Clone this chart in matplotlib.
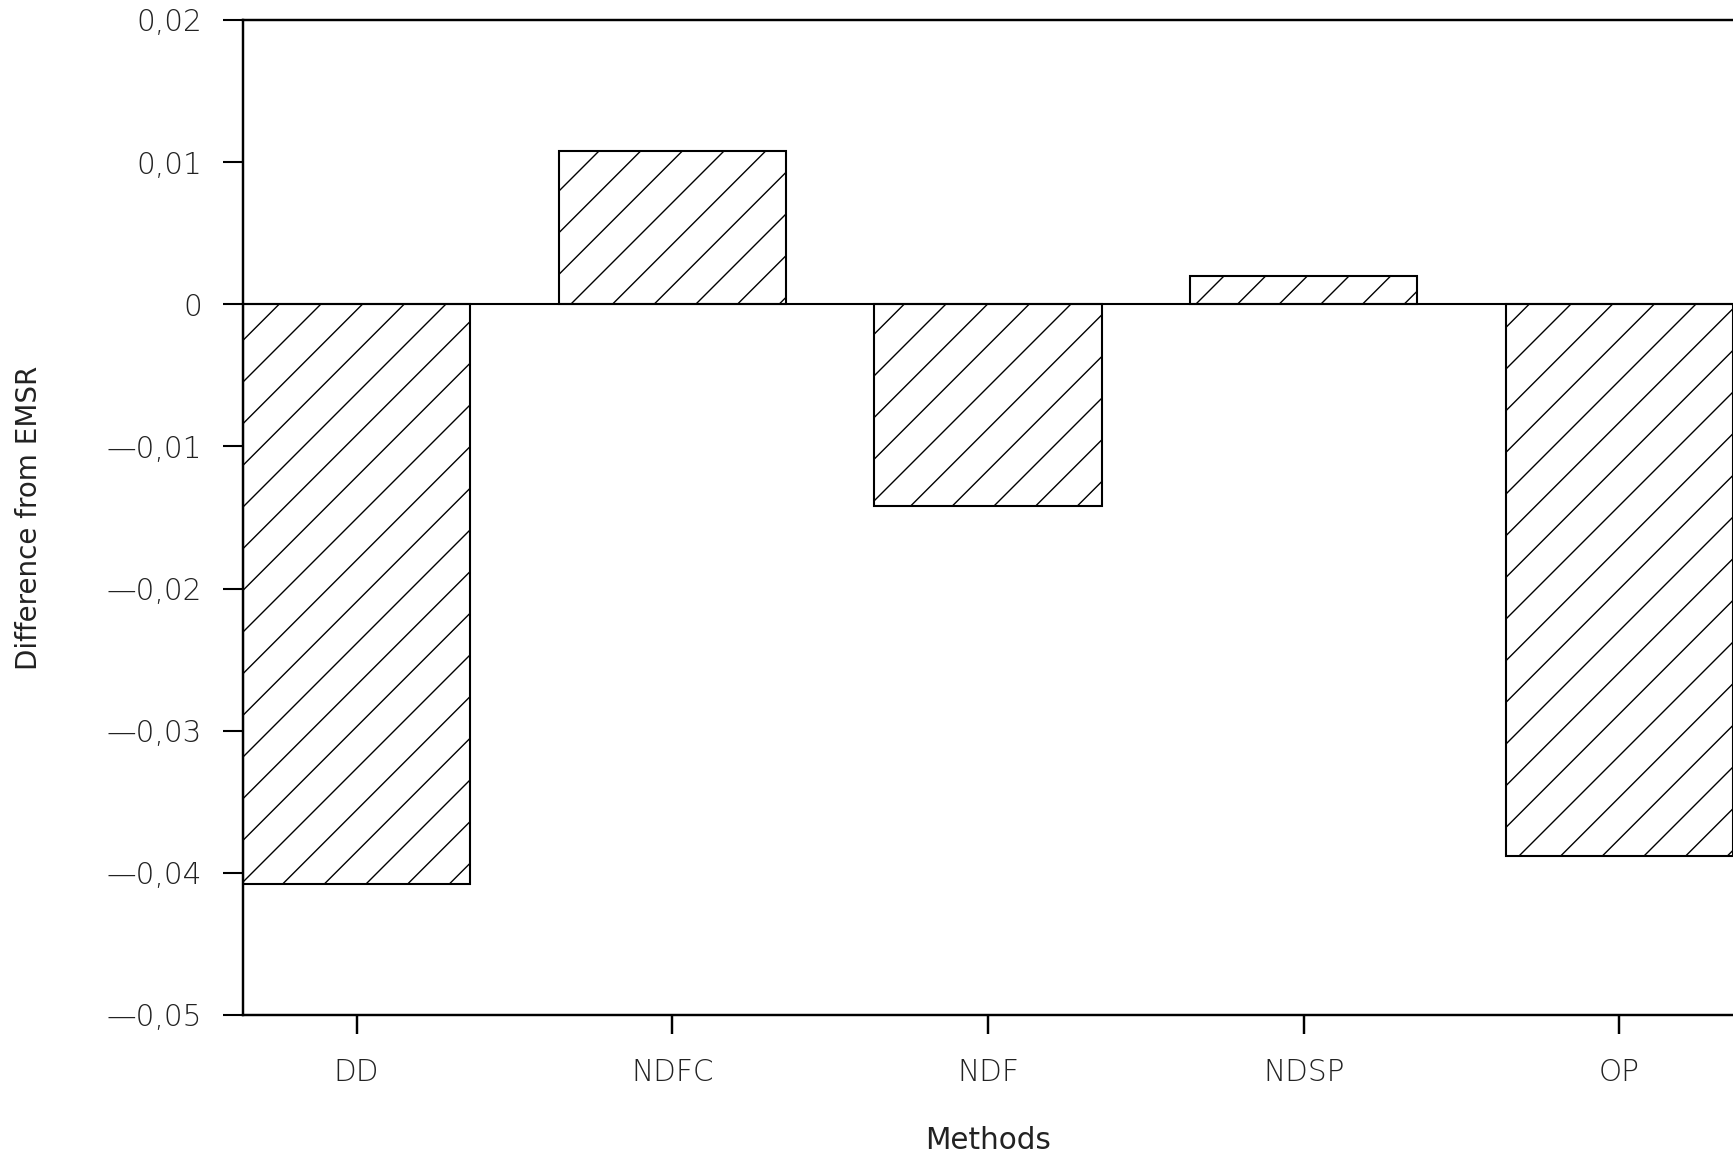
import matplotlib
matplotlib.use("Agg")
import matplotlib.pyplot as plt
from matplotlib.ticker import FuncFormatter

methods = ["DD", "NDFC", "NDF", "NDSP", "OP"]
diffs = [-0.0408, 0.0108, -0.0142, 0.0020, -0.0388]
yticks = [-0.05, -0.04, -0.03, -0.02, -0.01, 0.0, 0.01, 0.02]

DPI = 250
plt.rcParams["hatch.linewidth"] = 0.4
plt.rcParams["font.family"] = ["DejaVu Sans"]

fig = plt.figure(figsize=(1733 / DPI, 1160 / DPI), dpi=DPI)
ax = fig.add_axes([0.1402, 0.125, 0.8598, 0.8578])

x = list(range(len(methods)))
ax.bar(x, diffs, width=0.72, color="white", edgecolor="black",
       linewidth=0.6, hatch="//", zorder=2)
ax.axhline(0, color="black", linewidth=0.6, zorder=3)

ax.set_xlim(-0.36, 4.36)
ax.set_ylim(-0.05, 0.02)
ax.set_yticks(yticks)
ax.set_xticks(x)
ax.set_xticklabels(methods)


def fmt(v, pos):
    if abs(v) < 1e-12:
        return "0"
    s = f"{abs(v):.2f}".replace(".", ",")
    return ("\u2014" if v < 0 else "") + s


ax.yaxis.set_major_formatter(FuncFormatter(fmt))

for side in ["left", "top", "bottom"]:
    ax.spines[side].set_linewidth(0.7)
ax.spines["right"].set_visible(False)

ax.tick_params(axis="y", direction="out", length=5.8, width=0.6, pad=6,
               labelsize=8.5, colors="black")
ax.tick_params(axis="x", direction="out", length=5.5, width=0.7, pad=7,
               labelsize=8.5, colors="black")
for lbl in ax.get_xticklabels() + ax.get_yticklabels():
    lbl.set_fontweight("light")
    lbl.set_color("#222222")

ax.set_xlabel("Methods", fontsize=8.5, labelpad=11, color="#222222")
ax.set_ylabel("Difference from EMSR", fontsize=8, color="#222222")
ax.yaxis.set_label_coords(-0.134, 0.5)

fig.savefig("out.png", dpi=DPI)
